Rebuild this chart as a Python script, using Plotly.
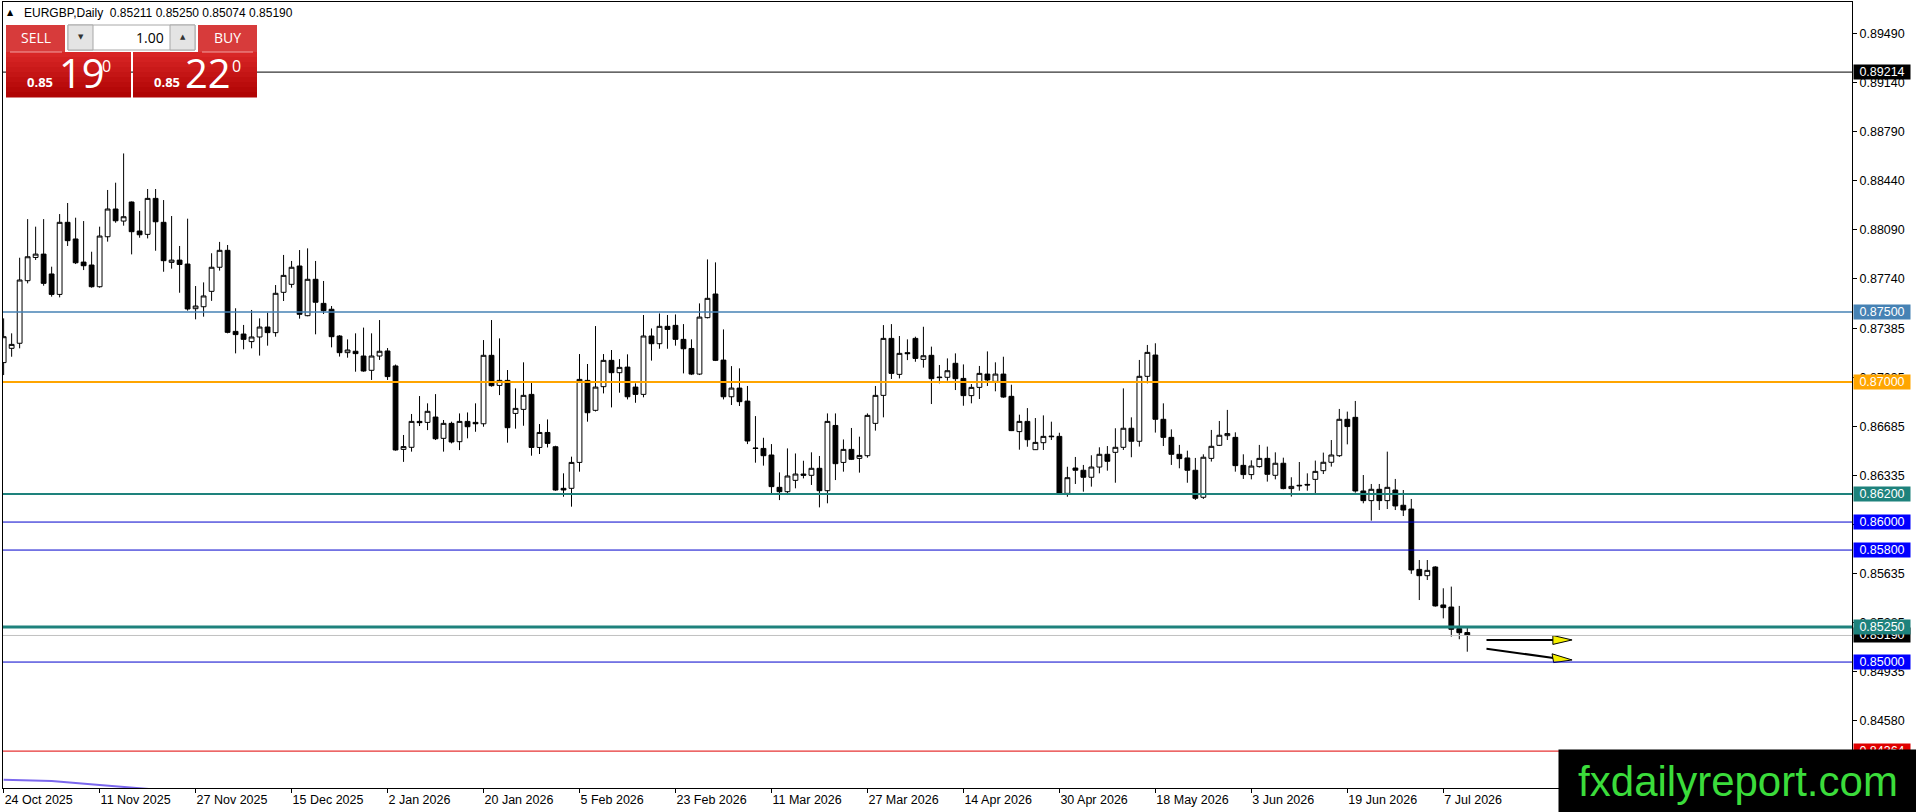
import pandas as pd
import plotly.graph_objects as go

# ---------------- data ----------------
holidays = ["2025-12-25", "2026-01-01"]
dates = [d for d in pd.bdate_range("2025-10-24", "2026-07-10")
         if d.strftime("%Y-%m-%d") not in holidays]

opens = [0.87139, 0.87241, 0.87277, 0.87724, 0.87890, 0.87914, 0.87772, 0.87626, 0.88141, 0.88022,
         0.87857, 0.87836, 0.87681, 0.88038, 0.88236, 0.88150, 0.88286, 0.88079, 0.88055, 0.88312,
         0.88141, 0.87855, 0.87871, 0.87843, 0.87524, 0.87538, 0.87648, 0.87820, 0.87941, 0.87362,
         0.87343, 0.87289, 0.87322, 0.87393, 0.87353, 0.87641, 0.87698, 0.87829, 0.87474, 0.87734,
         0.87562, 0.87520, 0.87329, 0.87210, 0.87220, 0.87186, 0.87084, 0.87186, 0.87222, 0.87115,
         0.86519, 0.86534, 0.86719, 0.86712, 0.86750, 0.86598, 0.86705, 0.86574, 0.86719, 0.86712,
         0.86702, 0.87191, 0.86976, 0.87012, 0.86776, 0.86805, 0.86912, 0.86533, 0.86640, 0.86538,
         0.86241, 0.86241, 0.86426, 0.87012, 0.86798, 0.86967, 0.87155, 0.87067, 0.87107, 0.86964,
         0.86912, 0.87329, 0.87274, 0.87398, 0.87405, 0.87305, 0.87240, 0.87057, 0.87460, 0.87629,
         0.87157, 0.86895, 0.86957, 0.86864, 0.86529, 0.86526, 0.86479, 0.86248, 0.86217, 0.86298,
         0.86343, 0.86334, 0.86384, 0.86224, 0.86690, 0.86426, 0.86519, 0.86455, 0.86474, 0.86705,
         0.86905, 0.87312, 0.87055, 0.87210, 0.87312, 0.87162, 0.87191, 0.87036, 0.87034, 0.87134,
         0.87026, 0.86903, 0.86962, 0.87057, 0.87005, 0.87057, 0.86898, 0.86646, 0.86719, 0.86517,
         0.86567, 0.86614, 0.86612, 0.86205, 0.86386, 0.86370, 0.86320, 0.86393, 0.86484, 0.86498,
         0.86534, 0.86670, 0.86577, 0.87041, 0.87193, 0.86734, 0.86605, 0.86484, 0.86458, 0.86370,
         0.86177, 0.86455, 0.86548, 0.86617, 0.86605, 0.86405, 0.86339, 0.86396, 0.86455, 0.86334,
         0.86420, 0.86239, 0.86258, 0.86269, 0.86305, 0.86367, 0.86427, 0.86474, 0.86734, 0.86748,
         0.86222, 0.86153, 0.86234, 0.86153, 0.86229, 0.86120, 0.86093, 0.85662, 0.85617, 0.85679,
         0.85408, 0.85393, 0.85239, 0.85211]
highs = [0.87455, 0.87348, 0.87888, 0.88164, 0.88110, 0.88164, 0.87824, 0.88200, 0.88279, 0.88174,
         0.88150, 0.87931, 0.88110, 0.88372, 0.88424, 0.88633, 0.88290, 0.88222, 0.88379, 0.88379,
         0.88300, 0.88186, 0.87972, 0.88167, 0.87686, 0.87712, 0.87920, 0.88001, 0.87979, 0.87527,
         0.87408, 0.87515, 0.87455, 0.87496, 0.87693, 0.87908, 0.87865, 0.87943, 0.87955, 0.87865,
         0.87722, 0.87543, 0.87335, 0.87305, 0.87348, 0.87389, 0.87348, 0.87443, 0.87243, 0.87125,
         0.86622, 0.86772, 0.86900, 0.86848, 0.86914, 0.86729, 0.86717, 0.86776, 0.86783, 0.86848,
         0.87300, 0.87443, 0.87312, 0.87086, 0.86955, 0.87141, 0.86995, 0.86700, 0.86733, 0.86545,
         0.86348, 0.86467, 0.87200, 0.87129, 0.87400, 0.87200, 0.87229, 0.87164, 0.87198, 0.86991,
         0.87479, 0.87383, 0.87490, 0.87479, 0.87483, 0.87414, 0.87305, 0.87562, 0.87876, 0.87855,
         0.87376, 0.87114, 0.87098, 0.86972, 0.86757, 0.86602, 0.86557, 0.86355, 0.86526, 0.86490,
         0.86438, 0.86498, 0.86472, 0.86776, 0.86776, 0.86590, 0.86672, 0.86610, 0.86776, 0.86972,
         0.87407, 0.87414, 0.87329, 0.87305, 0.87324, 0.87395, 0.87253, 0.87122, 0.87169, 0.87205,
         0.87126, 0.86986, 0.87115, 0.87219, 0.87141, 0.87181, 0.86981, 0.86767, 0.86814, 0.86743,
         0.86762, 0.86717, 0.86638, 0.86395, 0.86465, 0.86408, 0.86477, 0.86534, 0.86543, 0.86670,
         0.86955, 0.86748, 0.87158, 0.87265, 0.87277, 0.86848, 0.86662, 0.86551, 0.86510, 0.86458,
         0.86484, 0.86658, 0.86722, 0.86801, 0.86641, 0.86484, 0.86441, 0.86551, 0.86539, 0.86498,
         0.86460, 0.86320, 0.86429, 0.86348, 0.86439, 0.86496, 0.86586, 0.86808, 0.86789, 0.86865,
         0.86336, 0.86272, 0.86272, 0.86503, 0.86308, 0.86229, 0.86165, 0.85729, 0.85729, 0.85685,
         0.85527, 0.85539, 0.85401, 0.85250]
lows = [0.87050, 0.87181, 0.87241, 0.87705, 0.87872, 0.87688, 0.87610, 0.87605, 0.87972, 0.87843,
        0.87800, 0.87674, 0.87674, 0.88003, 0.88138, 0.88117, 0.87912, 0.88031, 0.88026, 0.87938,
        0.87788, 0.87810, 0.87638, 0.87510, 0.87448, 0.87467, 0.87580, 0.87796, 0.87348, 0.87205,
        0.87234, 0.87241, 0.87189, 0.87260, 0.87324, 0.87579, 0.87674, 0.87453, 0.87470, 0.87341,
        0.87486, 0.87248, 0.87182, 0.87174, 0.87074, 0.87074, 0.87015, 0.87158, 0.87015, 0.86510,
        0.86430, 0.86503, 0.86686, 0.86657, 0.86586, 0.86503, 0.86562, 0.86514, 0.86598, 0.86645,
        0.86681, 0.86967, 0.86907, 0.86567, 0.86667, 0.86688, 0.86474, 0.86486, 0.86533, 0.86224,
        0.86181, 0.86110, 0.86360, 0.86717, 0.86790, 0.86919, 0.86819, 0.86924, 0.86876, 0.86852,
        0.86891, 0.87153, 0.87238, 0.87238, 0.87260, 0.87062, 0.87050, 0.87050, 0.87455, 0.87150,
        0.86876, 0.86836, 0.86829, 0.86557, 0.86424, 0.86403, 0.86205, 0.86157, 0.86193, 0.86241,
        0.86312, 0.86265, 0.86105, 0.86134, 0.86300, 0.86360, 0.86443, 0.86353, 0.86460, 0.86653,
        0.86748, 0.87022, 0.87026, 0.87157, 0.87145, 0.87103, 0.86843, 0.86991, 0.87010, 0.86943,
        0.86831, 0.86848, 0.86879, 0.86972, 0.86934, 0.86888, 0.86650, 0.86517, 0.86538, 0.86515,
        0.86515, 0.86586, 0.86200, 0.86181, 0.86272, 0.86217, 0.86253, 0.86348, 0.86367, 0.86281,
        0.86515, 0.86463, 0.86539, 0.86991, 0.86639, 0.86543, 0.86408, 0.86384, 0.86281, 0.86158,
        0.86165, 0.86432, 0.86543, 0.86586, 0.86360, 0.86308, 0.86305, 0.86389, 0.86289, 0.86305,
        0.86234, 0.86182, 0.86224, 0.86224, 0.86205, 0.86343, 0.86396, 0.86465, 0.86555, 0.86210,
        0.86134, 0.86010, 0.86086, 0.86093, 0.86086, 0.86043, 0.85630, 0.85443, 0.85586, 0.85396,
        0.85312, 0.85182, 0.85163, 0.85074]
closes = [0.87324, 0.87269, 0.87729, 0.87895, 0.87914, 0.87705, 0.87626, 0.88141, 0.88010, 0.87852,
          0.87831, 0.87681, 0.88043, 0.88236, 0.88152, 0.88181, 0.88074, 0.88052, 0.88312, 0.88145,
          0.87867, 0.87871, 0.87840, 0.87522, 0.87543, 0.87615, 0.87820, 0.87941, 0.87355, 0.87339,
          0.87305, 0.87322, 0.87393, 0.87353, 0.87634, 0.87762, 0.87820, 0.87484, 0.87734, 0.87570,
          0.87510, 0.87324, 0.87210, 0.87229, 0.87203, 0.87079, 0.87186, 0.87220, 0.87039, 0.86515,
          0.86539, 0.86719, 0.86710, 0.86791, 0.86595, 0.86705, 0.86572, 0.86719, 0.86681, 0.86702,
          0.87191, 0.86974, 0.87012, 0.86674, 0.86812, 0.86905, 0.86533, 0.86640, 0.86562, 0.86229,
          0.86229, 0.86426, 0.87019, 0.86781, 0.86964, 0.87155, 0.87067, 0.87105, 0.86895, 0.86912,
          0.87329, 0.87274, 0.87398, 0.87376, 0.87305, 0.87238, 0.87057, 0.87464, 0.87598, 0.87155,
          0.86895, 0.86957, 0.86860, 0.86579, 0.86526, 0.86474, 0.86253, 0.86217, 0.86329, 0.86343,
          0.86334, 0.86384, 0.86224, 0.86719, 0.86417, 0.86519, 0.86448, 0.86476, 0.86762, 0.86905,
          0.87312, 0.87062, 0.87205, 0.87203, 0.87169, 0.87188, 0.87024, 0.87032, 0.87081, 0.87024,
          0.86903, 0.86962, 0.87062, 0.87015, 0.87057, 0.86893, 0.86653, 0.86719, 0.86588, 0.86569,
          0.86612, 0.86610, 0.86205, 0.86317, 0.86370, 0.86320, 0.86393, 0.86484, 0.86434, 0.86534,
          0.86670, 0.86577, 0.87041, 0.87212, 0.86734, 0.86605, 0.86484, 0.86453, 0.86370, 0.86170,
          0.86463, 0.86541, 0.86620, 0.86632, 0.86403, 0.86339, 0.86400, 0.86455, 0.86341, 0.86420,
          0.86239, 0.86255, 0.86262, 0.86265, 0.86362, 0.86427, 0.86479, 0.86734, 0.86682, 0.86222,
          0.86153, 0.86234, 0.86153, 0.86248, 0.86115, 0.86086, 0.85658, 0.85617, 0.85655, 0.85401,
          0.85389, 0.85234, 0.85210, 0.85190]

tick_labels = ["24 Oct 2025", "11 Nov 2025", "27 Nov 2025", "15 Dec 2025", "2 Jan 2026",
               "20 Jan 2026", "5 Feb 2026", "23 Feb 2026", "11 Mar 2026", "27 Mar 2026",
               "14 Apr 2026", "30 Apr 2026", "18 May 2026", "3 Jun 2026", "19 Jun 2026",
               "7 Jul 2026"]
price_ticks = [0.89490, 0.89140, 0.88790, 0.88440, 0.88090, 0.87740, 0.87385, 0.87035,
               0.86685, 0.86335, 0.85985, 0.85635, 0.85285, 0.84935, 0.84580, 0.84230]

level_prices = [0.89214, 0.87500, 0.87000, 0.86200, 0.86000, 0.85800, 0.85250, 0.85190, 0.85000, 0.84364]
level_colors = ["#000000", "#4682B4", "#FFA500", "#1E827C", "#0000CD", "#0000CD", "#1E827C",
                "#C0C0C0", "#0000CD", "#E00000"]
level_widths = [1, 1.5, 2, 2, 1, 1, 3, 1, 1, 1]
label_bg = ["#000000", "#4682B4", "#FFA500", "#1E827C", "#0000FF", "#0000FF", "#1E827C",
            "#000000", "#0000FF", "#E00000"]

ma_x = [0, 6, 12, 17, 21]
ma_y = [0.84160, 0.84150, 0.84122, 0.84100, 0.84080]

arrow1_x = [185.4, 194.0]
arrow1_y = [0.85158, 0.85158]
arrow1_head_x = [193.7, 196.1, 193.7]
arrow1_head_y = [0.85190, 0.85158, 0.85126]
arrow2_x = [185.4, 194.0]
arrow2_y = [0.85095, 0.85028]
arrow2_head_x = [193.6, 196.1, 193.8]
arrow2_head_y = [0.85059, 0.85015, 0.84996]

title_text = "EURGBP,Daily  0.85211 0.85250 0.85074 0.85190"

# ---------------- figure ----------------
W, H = 1916, 812
L, R, T, B = 3, 64, 2, 24
PW, PH = W - L - R, H - T - B


def px(x):
    return (x - L) / PW


def py(y):
    return (H - B - y) / PH


idx = list(range(len(dates)))
tick_pos = [dates.index(pd.to_datetime(t, format="%d %b %Y")) for t in tick_labels]

fig = go.Figure()
fig.add_trace(go.Candlestick(
    x=idx, open=opens, high=highs, low=lows, close=closes,
    increasing=dict(line=dict(color="black", width=1), fillcolor="white"),
    decreasing=dict(line=dict(color="black", width=1), fillcolor="black"),
    whiskerwidth=0, showlegend=False, hoverinfo="skip"))

fig.add_trace(go.Scatter(x=ma_x, y=ma_y, mode="lines",
                         line=dict(color="#7B68EE", width=2), showlegend=False, hoverinfo="skip"))

for xs, ys, hx, hy in [(arrow1_x, arrow1_y, arrow1_head_x, arrow1_head_y),
                       (arrow2_x, arrow2_y, arrow2_head_x, arrow2_head_y)]:
    fig.add_trace(go.Scatter(x=xs, y=ys, mode="lines", line=dict(color="black", width=2),
                             showlegend=False, hoverinfo="skip"))
    fig.add_trace(go.Scatter(x=hx + [hx[0]], y=hy + [hy[0]], mode="lines", fill="toself",
                             fillcolor="#F5F000", line=dict(color="black", width=1),
                             showlegend=False, hoverinfo="skip"))

shapes = []
annotations = []
AXF = dict(family="Liberation Sans, Arial, sans-serif", size=12.5, color="black")

for p, c, w, bg in zip(level_prices, level_colors, level_widths, label_bg):
    shapes.append(dict(type="line", xref="paper", yref="y", x0=0, x1=1, y0=p, y1=p,
                       line=dict(color=c, width=w), layer="above"))
for p, bg in zip(level_prices, label_bg):
    if p == 0.85190:
        continue
# draw bid label first so 0.85250 covers it
order = [7] + [i for i in range(len(level_prices)) if i != 7]
for i in order:
    annotations.append(dict(xref="paper", yref="y", x=px(1882), y=level_prices[i],
                            text=f"{level_prices[i]:.5f}", showarrow=False,
                            xanchor="center", yanchor="middle",
                            font=dict(family=AXF["family"], size=12.5, color="white"),
                            bgcolor=label_bg[i], width=54, height=12, borderpad=1))

# ---- trade panel ----
def rect(x0, y0, x1, y1, fill, line=None, lw=0):
    shapes.append(dict(type="rect", xref="paper", yref="paper",
                       x0=px(x0), x1=px(x1), y0=py(y1), y1=py(y0),
                       fillcolor=fill, line=dict(color=line or fill, width=lw), layer="above"))

rect(6, 25, 65, 52, "#D73B3B")
rect(198, 25, 257, 52, "#D73B3B")
rect(68, 25, 195, 50, "#FFFFFF", "#A8A8A8", 1)
rect(68, 25, 93, 50, "#E4E4E4", "#A8A8A8", 1)
rect(170, 25, 195, 50, "#E4E4E4", "#A8A8A8", 1)
nstrip = 9
for k in range(nstrip):
    t = k / (nstrip - 1)
    col = "rgb(%d,%d,%d)" % (int(216 - 40 * t), int(38 - 34 * t), int(38 - 34 * t))
    y0 = 52 + k * 45 / nstrip
    y1 = 52 + (k + 1) * 45 / nstrip
    rect(6, y0, 131, y1 + 0.5, col)
    rect(133, y0, 257, y1 + 0.5, col)
shapes.append(dict(type="line", xref="paper", yref="paper", x0=px(10), x1=px(62), y0=py(52), y1=py(52),
                   line=dict(color="#F2A0A0", width=1), layer="above"))
shapes.append(dict(type="line", xref="paper", yref="paper", x0=px(202), x1=px(253), y0=py(52), y1=py(52),
                   line=dict(color="#F2A0A0", width=1), layer="above"))

PF = "Open Sans, Noto Sans, sans-serif"


def txt(x, y, s, size, color="white", anchor="center", family=PF):
    annotations.append(dict(xref="paper", yref="paper", x=px(x), y=py(y), text=s, showarrow=False,
                            xanchor=anchor, yanchor="middle",
                            font=dict(family=family, size=size, color=color)))

txt(35.5, 38, "SELL", 14)
txt(227.5, 38, "BUY", 14)
txt(166, 37.5, "1.00", 14, "black", "right")
txt(80.5, 37.5, "▼", 7, "#333333", family="DejaVu Sans")
txt(182.5, 37.5, "▲", 7, "#333333", family="DejaVu Sans")
txt(40, 82, "<b>0.85</b>", 13)
txt(167, 82, "<b>0.85</b>", 13)
txt(81.5, 73, "19", 40)
txt(207.5, 73, "22", 40)
txt(106, 66, "0", 16)
txt(236, 66, "0", 16)

# ---- title ----
txt(10.5, 12.5, "▲", 8, "black", family="DejaVu Sans")
txt(22, 12.5, title_text, 12, "black", "left", family=AXF["family"])

# ---- watermark (on top of everything) ----
annotations.append(dict(xref="paper", yref="paper", x=px(1558), y=py(749), xanchor="left", yanchor="top",
                        text="fxdailyreport.com", showarrow=False, bgcolor="#000000",
                        width=358, height=63, borderpad=0, align="center",
                        font=dict(family="Liberation Sans, Arial, sans-serif", size=42, color="#3BDC3B")))

fig.update_layout(
    width=W, height=H, margin=dict(l=L, r=R, t=T, b=B, pad=0),
    paper_bgcolor="white", plot_bgcolor="white",
    showlegend=False, boxgap=0.4, boxgroupgap=0,
    shapes=shapes, annotations=annotations,
    xaxis=dict(range=[-0.08, 231.1], showgrid=False, zeroline=False, showline=True,
               linecolor="black", linewidth=1, mirror=True, ticks="outside", ticklen=4,
               tickcolor="black", tickvals=tick_pos, ticktext=tick_labels,
               ticklabelposition="outside right", tickfont=AXF, rangeslider=dict(visible=False),
               fixedrange=True),
    yaxis=dict(range=[0.841004, 0.897147], side="right", showgrid=False, zeroline=False,
               showline=True, linecolor="black", linewidth=1, mirror=True, ticks="outside",
               ticklen=4, tickcolor="black", tickvals=price_ticks,
               ticktext=[f"{v:.5f}" for v in price_ticks], tickfont=AXF, fixedrange=True),
)

fig.write_html("out.html", config={"displayModeBar": False},
               post_script="document.body.style.margin='0';document.body.style.overflow='hidden';")
